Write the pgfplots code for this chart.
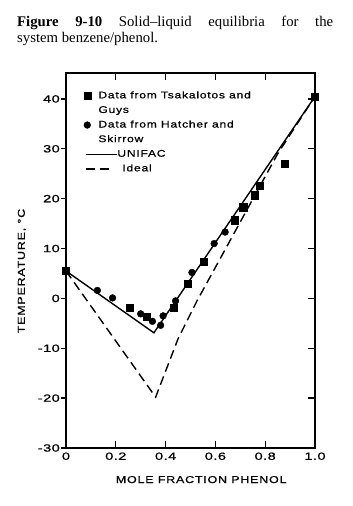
\documentclass[border=0pt]{standalone}
\usepackage{fontspec}
\usepackage{pgfplots}
\pgfplotsset{compat=1.18}
\setmainfont{Liberation Serif}
\newfontfamily\cf[FakeStretch=1.25,LetterSpace=8,FakeBold=0.8]{Liberation Sans}
\newfontfamily\tf[FakeStretch=1.4,LetterSpace=4,FakeBold=0.8]{Liberation Sans}
\pgfplotsset{
  mleg/.style={legend image code/.code={\draw[##1] plot coordinates {(0bp,0bp)};}},
  lleg/.style={legend image code/.code={\draw[overlay,##1] (-1bp,0bp) -- (30bp,0bp);}},
  dleg/.style={legend image code/.code={\draw[overlay,##1] (-1bp,0bp) -- (23bp,0bp);}},
}
\begin{document}
\begin{tikzpicture}
\useasboundingbox (0,0) rectangle (353bp,506bp);
\node[anchor=base west,inner sep=0pt,font=\fontsize{14.8}{16}\selectfont] at (17bp,479bp) {\makebox[316bp][s]{\textbf{Figure 9-10} Solid–liquid equilibria for the}};
\node[anchor=base west,inner sep=0pt,font=\fontsize{14.8}{16}\selectfont] at (17bp,463bp) {system benzene/phenol.};

% left axis: outward ticks and labels
\begin{axis}[at={(66bp,58bp)}, anchor=south west, scale only axis,
  width=249bp, height=375bp, xmin=0, xmax=1, ymin=-30, ymax=45.2,
  axis x line=none, axis y line*=left,
  axis line style={line width=1.7bp, -},
  tick align=outside, major tick length=5bp,
  ytick={-30,-20,-10,0,10,20,30,40},
  yticklabels={-30,-20,-10,0,10,20,30,40},
  tick style={line width=1.3bp, black},
  yticklabel style={font=\tf\fontsize{10.5}{12}\selectfont, inner xsep=1bp},
  /pgf/number format/assume math mode=true,
  ylabel={TEMPERATURE, °C},
  ylabel style={font=\cf\fontsize{10}{12}\selectfont, at={(axis description cs:-0.177,0.472)}, anchor=center},
]
\end{axis}

\begin{axis}[at={(66bp,58bp)}, anchor=south west, scale only axis,
  width=249bp, height=375bp, xmin=0, xmax=1, ymin=-30, ymax=45.2,
  clip=false,
  axis line style={line width=1.7bp},
  tick align=inside, major tick length=7bp,
  tick style={line width=1.3bp, black},
  xtick={0,0.2,0.4,0.6,0.8,1.0},
  xticklabels={0,0.2,0.4,0.6,0.8,1.0},
  xtick pos=both,
  ytick={-30,-20,-10,0,10,20,30,40},
  ytick pos=right, yticklabels={},
  xticklabel style={font=\tf\fontsize{10.5}{12}\selectfont, yshift=-1bp},
  /pgf/number format/assume math mode=true,
  xlabel={MOLE FRACTION PHENOL},
  xlabel style={font=\cf\fontsize{10}{12}\selectfont, at={(axis description cs:0.543,0)}, anchor=base, yshift=-35bp},
  legend entries={Data from Tsakalotos and, Guys, Data from Hatcher and, Skirrow, \hspace{19bp}UNIFAC, \hspace{24bp}Ideal},
  legend cell align=left,
  legend style={draw=none, fill=none, inner sep=0pt, anchor=north west,
    at={(0.0703,0.957)}, font=\cf\fontsize{9.7}{11}\selectfont,
    /tikz/row sep=1.6bp, /tikz/column sep=7.5bp,
    nodes={text height=7bp, text depth=2bp, inner xsep=0pt, inner ysep=2bp}},
]
\addlegendimage{only marks, mark=square*, mark size=3.6bp, black, mleg}
\addlegendimage{empty legend}
\addlegendimage{only marks, mark=*, mark size=3.4bp, black, mleg}
\addlegendimage{empty legend}
\addlegendimage{black, line width=1.4bp, lleg}
\addlegendimage{black, line width=1.4bp, dash pattern=on 9bp off 5bp, dleg}

% UNIFAC
\addplot[black, line width=1.4bp, forget plot] coordinates {(0,5.5) (0.353,-6.9) (1.0,40.5)};
% Ideal
\addplot[black, line width=1.4bp, dash pattern=on 9bp off 5bp, forget plot] coordinates {(0,5.5) (0.36,-19.8) (0.45,-8.1) (0.525,-0.6) (0.85,29.0) (1.0,40.5)};
% Tsakalotos and Guys
\addplot[only marks, mark=square*, mark size=3.6bp, black, forget plot] coordinates {
(0,5.5) (0.257,-1.8) (0.324,-3.6) (0.432,-1.8) (0.489,2.9) (0.553,7.3)
(0.679,15.7) (0.712,18.3) (0.759,20.7) (0.779,22.6) (0.877,27.0) (1.0,40.5)};
% Hatcher and Skirrow
\addplot[only marks, mark=*, mark size=3.4bp, black, forget plot] coordinates {
(0.126,1.6) (0.187,0.1) (0.30,-3.1) (0.347,-4.6) (0.38,-5.4) (0.39,-3.5)
(0.44,-0.5) (0.506,5.2) (0.595,11.0) (0.639,13.3)};
\end{axis}
\end{tikzpicture}
\end{document}
